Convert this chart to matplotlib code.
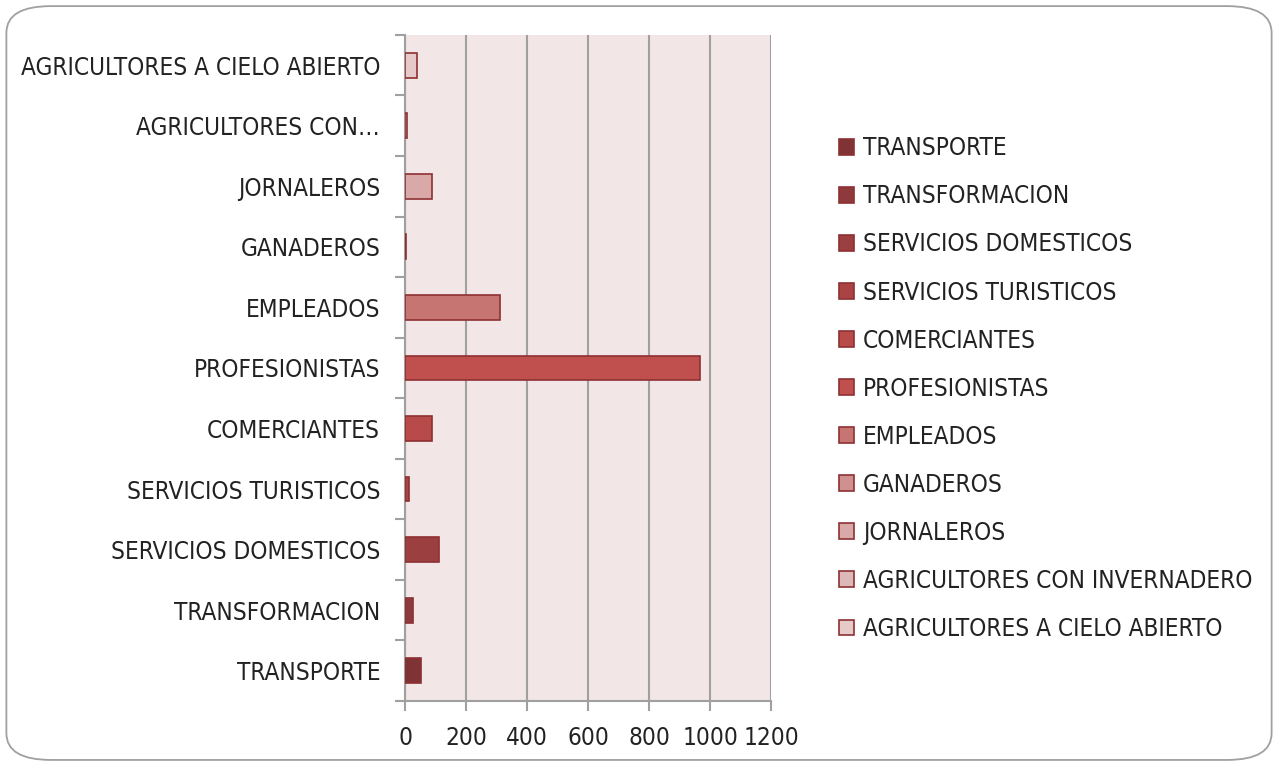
import matplotlib
matplotlib.use('Agg')
import matplotlib.pyplot as plt
from matplotlib.patches import FancyBboxPatch, Patch

plt.rcParams['font.family'] = ['DejaVu Sans']
plt.rcParams['font.stretch'] = 'condensed'

# categories, bottom to top
categories = ['TRANSPORTE', 'TRANSFORMACION', 'SERVICIOS DOMESTICOS',
              'SERVICIOS TURISTICOS', 'COMERCIANTES', 'PROFESIONISTAS',
              'EMPLEADOS', 'GANADEROS', 'JORNALEROS',
              'AGRICULTORES CON INVERNADERO', 'AGRICULTORES A CIELO ABIERTO']
tick_labels = ['TRANSPORTE', 'TRANSFORMACION', 'SERVICIOS DOMESTICOS',
               'SERVICIOS TURISTICOS', 'COMERCIANTES', 'PROFESIONISTAS',
               'EMPLEADOS', 'GANADEROS', 'JORNALEROS',
               'AGRICULTORES CON\u2026', 'AGRICULTORES A CIELO ABIERTO']
values = [52, 27, 110, 14, 87, 965, 311, 4, 88, 6, 40]
colors = ['#7F3335', '#8E393B', '#9C3F40', '#AA4444', '#B84B4A', '#C0504D',
          '#C77572', '#D09090', '#D9A8A8', '#DDB8B8', '#E6C9C9']
edge = '#8E3032'

fig = plt.figure(figsize=(12.78, 7.63), dpi=100)
fig.patches.append(FancyBboxPatch((0.005, 0.004), 0.99, 0.988,
                                  boxstyle='round,pad=0,rounding_size=0.035',
                                  transform=fig.transFigure, fc='white',
                                  ec='#A0A0A0', lw=1.3, zorder=-1))

ax = fig.add_axes([0.317, 0.0813, 0.2865, 0.873])
ax.set_facecolor('#F2E6E6')

pos = list(range(len(categories)))
for i in pos:
    ax.barh(i, values[i], height=0.41, color=colors[i], edgecolor=edge,
            linewidth=1.2, label=categories[i], zorder=3)

ax.set_xlim(0, 1200)
ax.set_ylim(-0.5, len(categories) - 0.5)
ax.set_xticks(range(0, 1201, 200))
ax.tick_params(axis='x', labelsize=17.5, length=7, color='#A0A0A0', width=1.5,
               pad=11, labelcolor='#222222')
ax.set_yticks(pos)
ax.set_yticklabels(tick_labels)
ax.tick_params(axis='y', which='major', length=0, labelsize=17.5, pad=18,
               labelcolor='#222222')
ax.set_yticks([p - 0.5 for p in pos] + [len(pos) - 0.5], minor=True)
ax.tick_params(axis='y', which='minor', length=7, color='#A0A0A0', width=1.5)
ax.grid(axis='x', color='#A0A0A0', lw=1.5, zorder=1)
for s in ['top', 'right']:
    ax.spines[s].set_visible(False)
for s in ['left', 'bottom']:
    ax.spines[s].set_color('#A0A0A0')
    ax.spines[s].set_linewidth(1.5)

handles = [Patch(fc=colors[i], ec=edge, lw=1.2) for i in pos]
fig.legend(handles, categories, loc='upper left', bbox_to_anchor=(0.639, 0.850),
           frameon=False, fontsize=17.5, handlelength=0.62, handleheight=0.62,
           handletextpad=0.38, labelspacing=0.99, labelcolor='#222222')

fig.savefig('out.png', dpi=100)
